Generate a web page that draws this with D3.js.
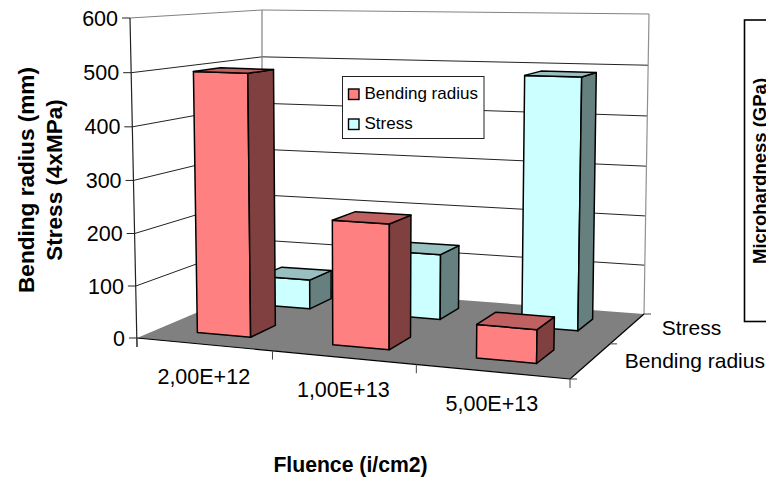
<!DOCTYPE html>
<html>
<head>
<meta charset="utf-8">
<script src="https://cdnjs.cloudflare.com/ajax/libs/d3/7.8.5/d3.min.js"></script>
<style>
  html, body { margin: 0; padding: 0; background: #fff; }
  svg { display: block; }
  text { font-family: "Liberation Sans", Arial, sans-serif; fill: #000; }
</style>
</head>
<body>
<svg id="chart" width="766" height="478"></svg>
<script>
// Chart data
const categories = ["2,00E+12", "1,00E+13", "5,00E+13"];
const seriesNames = ["Bending radius", "Stress"];
const bendingRadius = [500, 235, 62];
const stress = [60, 131, 490];
const valueTicks = [0, 100, 200, 300, 400, 500, 600];

const palette = {
  "Bending radius": { front: "#ff8080", side: "#804040", top: "#c06060" },
  "Stress": { front: "#ccffff", side: "#668080", top: "#99c0c0" }
};

// Frame of the 3D box: floor and ceiling quads, front-left round to back-left
const floorQuad = [[137, 338], [570, 379], [644, 314], [262, 285]];
const ceilingQuad = [[130, 18], [577, 30], [649, 14], [262, 10]];
const heightPerspective = -0.03;
const acrossBow = 12;

// Projective weights of the floor, from the unit square to its quadrilateral
function floorWeights(q) {
  const [[x0, y0], [x1, y1], [x2, y2], [x3, y3]] = q;
  const dx1 = x1 - x2, dx2 = x3 - x2, sx = x0 - x1 + x2 - x3;
  const dy1 = y1 - y2, dy2 = y3 - y2, sy = y0 - y1 + y2 - y3;
  const det = dx1 * dy2 - dx2 * dy1;
  const g = (sx * dy2 - dx2 * sy) / det;
  const h = (dx1 * sy - sx * dy1) / det;
  return {
    g, h,
    ax: x1 - x0 + g * x1, bx: x3 - x0 + h * x3, cx: x0,
    ay: y1 - y0 + g * y1, by: y3 - y0 + h * y3, cy: y0
  };
}
const fw = floorWeights(floorQuad);
const weight = (u, v) => fw.g * u + fw.h * v + 1;

// Ceiling corners in homogeneous form, blended bilinearly over the unit square
const cornerUV = [[0, 0], [1, 0], [1, 1], [0, 1]];
const ceilingH = ceilingQuad.map((p, i) => {
  const w = weight(...cornerUV[i]) + heightPerspective;
  return [p[0] * w, p[1] * w];
});
const blend = (u, v, axis) =>
  (1 - u) * (1 - v) * ceilingH[0][axis] + u * (1 - v) * ceilingH[1][axis] +
  u * v * ceilingH[2][axis] + (1 - u) * v * ceilingH[3][axis];

// Scales: category across, series into the depth, value upward
const across = d3.scaleBand().domain(categories).range([0, 1]).paddingInner(0.6).paddingOuter(0.3);
const depth = d3.scaleBand().domain(seriesNames).range([0, 1]).paddingInner(0.6).paddingOuter(0.3);
const up = d3.scaleLinear().domain([0, 600]).range([0, 1]);

function project(u, v, value) {
  const k = up(value);
  const nx = fw.ax * u + fw.bx * v + fw.cx;
  const ny = fw.ay * u + fw.by * v + fw.cy;
  const w = weight(u, v) + heightPerspective * k;
  const bow = acrossBow * u * (1 - u);
  return [(nx + (blend(u, v, 0) - nx) * k) / w + bow, (ny + (blend(u, v, 1) - ny) * k) / w];
}
const onFloor = (u, v) => project(u, v, 0);

const svg = d3.select("#chart");
const pathOf = pts => "M" + pts.map(p => p.map(n => n.toFixed(2)).join(",")).join("L") + "Z";
const segment = (g, a, b, color, width) => g.append("line")
  .attr("x1", a[0]).attr("y1", a[1]).attr("x2", b[0]).attr("y2", b[1])
  .attr("stroke", color).attr("stroke-width", width);

// Walls and gridlines
const walls = svg.append("g");
valueTicks.slice(1).forEach(t => {
  const color = t === 600 ? "#808080" : "#222";
  segment(walls, project(0, 0, t), project(0, 1, t), color, 1);
  segment(walls, project(0, 1, t), project(1, 1, t), color, 1);
});
segment(walls, project(0, 1, 0), project(0, 1, 600), "#808080", 1.2);
segment(walls, project(1, 1, 0), project(1, 1, 600), "#909090", 1.2);

// Floor
svg.append("path")
  .attr("d", pathOf([onFloor(0, 0), onFloor(1, 0), onFloor(1, 1), onFloor(0, 1)]))
  .attr("fill", "#808080");
const floorEdges = svg.append("g");
segment(floorEdges, onFloor(0, 0), onFloor(1, 0), "#000", 1.2);
segment(floorEdges, onFloor(1, 0), onFloor(1, 1), "#000", 1.2);

// Value axis: front-left upright, ticks and labels
const axis = svg.append("g");
const foot = project(0, 0, 0);
segment(axis, project(0, 0, 600), [foot[0], foot[1] + 9], "#222", 1.2);
valueTicks.forEach(t => {
  const p = project(0, 0, t);
  segment(axis, [p[0] - 8, p[1]], p, "#222", 1);
  axis.append("text").attr("x", p[0] - 12).attr("y", p[1] + 7.5)
    .attr("text-anchor", "end").attr("font-size", 21.5).text(t);
});

// Category axis
d3.range(categories.length + 1).forEach(i => {
  const p = onFloor(i / categories.length, 0);
  segment(axis, p, [p[0], p[1] + 9], "#444", 1);
});
categories.forEach(c => {
  const p = onFloor(across(c) + across.bandwidth() / 2, 0);
  axis.append("text").attr("x", p[0]).attr("y", p[1] + 40)
    .attr("text-anchor", "middle").attr("font-size", 21.5).text(c);
});

// Series axis
d3.range(seriesNames.length + 1).forEach(i => {
  const p = onFloor(1, i / seriesNames.length);
  segment(axis, p, [p[0] + 7, p[1]], "#444", 1);
});
seriesNames.forEach(s => {
  const p = onFloor(1, depth(s) + depth.bandwidth() / 2);
  axis.append("text").attr("x", p[0] + 34).attr("y", p[1] + 7)
    .attr("font-size", 21).text(s);
});

// Bars, rear series first
const valuesBySeries = { "Bending radius": bendingRadius, "Stress": stress };
const bars = svg.append("g");
[...seriesNames].reverse().forEach(s => {
  const colors = palette[s];
  valuesBySeries[s].forEach((val, i) => {
    const u0 = across(categories[i]), u1 = u0 + across.bandwidth();
    const v0 = depth(s), v1 = v0 + depth.bandwidth();
    const faces = [
      { pts: [project(u0, v0, 0), project(u1, v0, 0), project(u1, v0, val), project(u0, v0, val)], fill: colors.front },
      { pts: [project(u1, v0, 0), project(u1, v1, 0), project(u1, v1, val), project(u1, v0, val)], fill: colors.side },
      { pts: [project(u0, v0, val), project(u1, v0, val), project(u1, v1, val), project(u0, v1, val)], fill: colors.top }
    ];
    bars.selectAll(null).data(faces).enter().append("path")
      .attr("d", f => pathOf(f.pts))
      .attr("fill", f => f.fill)
      .attr("stroke", "#000").attr("stroke-width", 1.5).attr("stroke-linejoin", "round");
  });
});

// Legend
const legend = svg.append("g");
legend.append("rect").attr("x", 342.5).attr("y", 76.5).attr("width", 141.5).attr("height", 62)
  .attr("fill", "#fff").attr("stroke", "#222").attr("stroke-width", 1);
seriesNames.forEach((s, i) => {
  const top = 89 + i * 30;
  legend.append("rect").attr("x", 348.5).attr("y", top).attr("width", 10.5).attr("height", 10.5)
    .attr("fill", palette[s].front).attr("stroke", "#000").attr("stroke-width", 1.4);
  legend.append("text").attr("x", 364.5).attr("y", top + 10).attr("font-size", 17).text(s);
});

// Axis titles
const boldTitle = (x, y, size, rotate, label) => svg.append("text")
  .attr("transform", `translate(${x},${y})` + (rotate ? " rotate(-90)" : ""))
  .attr("text-anchor", "middle").attr("font-weight", "bold").attr("font-size", size).text(label);
boldTitle(33.5, 180, 22.6, true, "Bending radius (mm)");
boldTitle(62, 180, 22.5, true, "Stress (4xMPa)");
boldTitle(350.5, 472, 21.2, false, "Fluence (i/cm2)");

// Neighbouring panel running off the right edge
svg.append("rect").attr("x", 744.5).attr("y", 20).attr("width", 60).attr("height", 301.5)
  .attr("fill", "none").attr("stroke", "#000").attr("stroke-width", 1.6);
boldTitle(765.5, 171, 18.5, true, "Microhardness (GPa)");
</script>
</body>
</html>
